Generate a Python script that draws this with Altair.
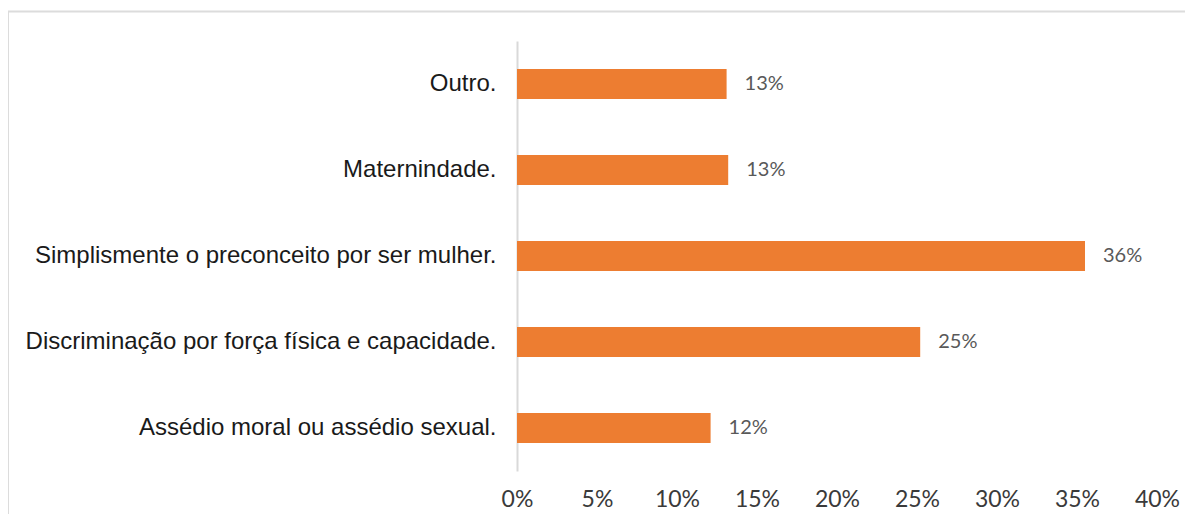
import altair as alt
import pandas as pd

categories = [
    "Outro.",
    "Maternindade.",
    "Simplismente o preconceito por ser mulher.",
    "Discriminação por força física e capacidade.",
    "Assédio moral ou assédio sexual.",
]
values = [0.131, 0.132, 0.355, 0.252, 0.121]
labels = ["13%", "13%", "36%", "25%", "12%"]

df = pd.DataFrame({"cat": categories, "val": values, "lab": labels})

W, H = 640, 430
PAD_L, PAD_T, PAD_R, PAD_B = 509, 33, 28, 43

y_enc = alt.Y(
    "cat:N",
    sort=categories,
    title=None,
    scale=alt.Scale(paddingInner=0.65, paddingOuter=0.325),
    axis=alt.Axis(
        labelFont="Liberation Sans",
        labelFontSize=24,
        labelColor="#1a1a1a",
        labelPadding=21,
        ticks=False,
        domainColor="#d9d9d9",
        domainWidth=2,
        labelLimit=600,
    ),
)

x_enc = alt.X(
    "val:Q",
    title=None,
    scale=alt.Scale(domain=[0, 0.40], nice=False),
    axis=alt.Axis(
        format=".0%",
        values=[0, 0.05, 0.10, 0.15, 0.20, 0.25, 0.30, 0.35, 0.40],
        labelFont="Lato",
        labelFontSize=23,
        labelColor="#3a3a3a",
        labelPadding=17,
        labelFlush=False,
        labelOverlap=False,
        ticks=False,
        domain=False,
        grid=False,
    ),
)

border = alt.Chart(pd.DataFrame({"k": [0]})).mark_rect(
    fill="transparent", stroke="#dcdcdc", strokeWidth=2
).encode(
    x=alt.value(-509),
    x2=alt.value(720),
    y=alt.value(-29.5),
    y2=alt.value(540),
)

bars = alt.Chart(df).mark_bar(color="#ed7d31").encode(x=x_enc, y=y_enc)

text = alt.Chart(df).mark_text(
    align="left", baseline="middle", dx=18, font="Lato", fontSize=20, color="#595959"
).encode(x="val:Q", y=alt.Y("cat:N", sort=categories), text="lab:N")

chart = (
    alt.layer(border, bars, text)
    .properties(
        width=W,
        height=H,
        autosize=alt.AutoSizeParams(type="none"),
        padding={"left": PAD_L, "top": PAD_T, "right": PAD_R, "bottom": PAD_B},
    )
    .configure(background="white")
    .configure_view(strokeWidth=0, stroke="transparent")
)

chart.save("out.html", embed_options={"renderer": "svg", "actions": False})
